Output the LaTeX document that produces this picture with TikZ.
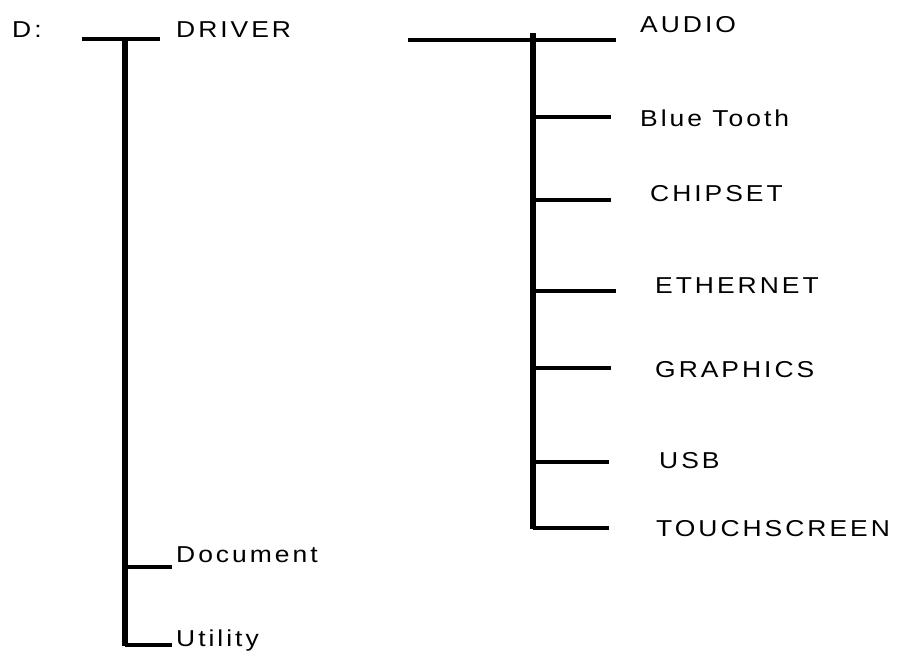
\documentclass[tikz,border=0pt]{standalone}
\usepackage{fontspec}
\setmainfont{Liberation Sans}[LetterSpace=13,FakeStretch=1.15]
\begin{document}
\begin{tikzpicture}[x=1pt,y=-1pt,
  lbl/.style={anchor=west,inner sep=0pt,font=\fontsize{23}{26}\selectfont},
  trunk/.style={line width=6pt},
  twig/.style={line width=4pt}]
\useasboundingbox (0,0) rectangle (898,651);
% left tree
\node[lbl] (d) at (12,30) {D:};
\node[lbl] (driver) at (176,30) {DRIVER};
\node[lbl] (doc) at (176,555) {Document};
\node[lbl] (util) at (176,641) {Utility};
\coordinate (ltl) at (82,39);
\coordinate (ltr) at (160,39);
\coordinate (lj) at (125,39);
\coordinate (lbot) at (125,646);
\coordinate (ldocj) at (125,567);
\coordinate (ldoce) at (172,567);
\coordinate (lutj) at (125,645);
\coordinate (lute) at (172,645);
\draw[twig] (ltl) -- (ltr);
\draw[trunk] (lj) -- (lbot);
\draw[twig] (ldocj) -- (ldoce);
\draw[twig] (lutj) -- (lute);
% right tree
\node[lbl] (audio) at (640,25) {AUDIO};
\node[lbl] (bt) at (640,118) {Blue Tooth};
\node[lbl] (chip) at (650,194) {CHIPSET};
\node[lbl] (eth) at (655,286) {ETHERNET};
\node[lbl] (gfx) at (655,370) {GRAPHICS};
\node[lbl] (usb) at (659,461) {USB};
\node[lbl] (touch) at (656,529) {TOUCHSCREEN};
\coordinate (rtl) at (408,40);
\coordinate (rtr) at (616,40);
\coordinate (rtop) at (533,33);
\coordinate (rbot) at (533,529);
\draw[twig] (rtl) -- (rtr);
\draw[trunk] (rtop) -- (rbot);
\coordinate (rbt) at (611,117);
\coordinate (rchip) at (611,200);
\coordinate (reth) at (616,291);
\coordinate (rgfx) at (611,368);
\coordinate (rusb) at (609,462);
\coordinate (rtouch) at (609,528);
\foreach \c in {rbt,rchip,reth,rgfx,rusb,rtouch}
  \draw[twig] (\c -| rtop) -- (\c);
\end{tikzpicture}
\end{document}
